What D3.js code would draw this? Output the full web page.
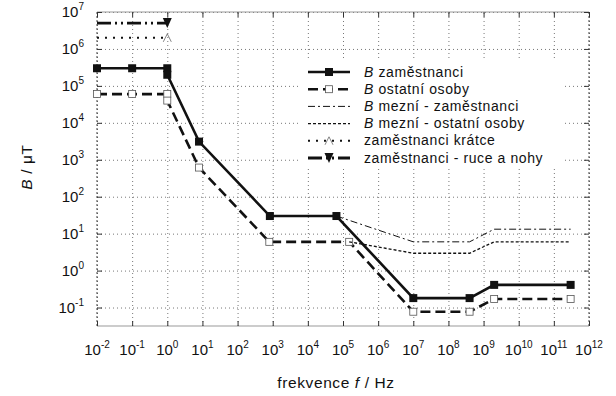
<!DOCTYPE html>
<html>
<head>
<meta charset="utf-8">
<script src="https://cdn.jsdelivr.net/npm/d3@7"></script>
<style>
  body { margin: 0; background: #fff; }
  svg { font-family: "Liberation Sans", Arial, sans-serif; }
</style>
</head>
<body>
<svg id="chart" width="616" height="396"></svg>
<script>
// frequency [Hz] and flux density [uT]
const zamF = [1e-2, 1e-1, 1, 1, 8, 830, 6.5e4, 1e7, 4e8, 2e9, 3e11];
const zamB = [3e5, 3e5, 3e5, 2e5, 3.1e3, 30, 30, 0.18, 0.18, 0.41, 0.41];
const ostF = [1e-2, 1e-1, 1, 1, 8, 800, 1.5e5, 1e7, 4e8, 2e9, 3e11];
const ostB = [6e4, 6e4, 6e4, 4e4, 615, 6, 6, 0.077, 0.077, 0.17, 0.17];
const mezZamF = [6.5e4, 1e7, 4e8, 2e9, 3e11];
const mezZamB = [30, 6, 6, 13.2, 13.2];
const mezOstF = [1.5e5, 1e7, 4e8, 2e9, 3e11];
const mezOstB = [6, 2.95, 2.95, 6, 6];
const kratceF = [1e-2, 1];
const kratceB = [2e6, 2e6];
const ruceF = [1e-2, 1];
const ruceB = [5e6, 5e6];

const xTicks = d3.range(-2, 13).map(e => Math.pow(10, e));
const yTicks = d3.range(-1, 8).map(e => Math.pow(10, e));

const legendLabels = [
  ["B", " zaměstnanci"],
  ["B", " ostatní osoby"],
  ["B", " mezní - zaměstnanci"],
  ["B", " mezní - ostatní osoby"],
  ["", "zaměstnanci krátce"],
  ["", "zaměstnanci - ruce a nohy"]
];

const pLeft = 97, pRight = 589, pTop = 12, pBottom = 326;
const ink = "#111";

const svg = d3.select("#chart");

const x = d3.scaleLog().domain([1e-2, 1e12]).range([pLeft, pRight]);
const y = d3.scaleLog().domain([Math.pow(10, -1.5), 1e7]).range([pBottom, pTop]);

// grid
svg.append("g")
  .attr("transform", `translate(0,${pBottom})`)
  .call(d3.axisBottom(x).tickValues(xTicks).tickSize(-(pBottom - pTop)).tickFormat(""))
  .call(g => g.select(".domain").remove())
  .selectAll("line")
  .attr("stroke", "#777").attr("stroke-dasharray", "1,3");

svg.append("g")
  .attr("transform", `translate(${pLeft},0)`)
  .call(d3.axisLeft(y).tickValues(yTicks).tickSize(-(pRight - pLeft)).tickFormat(""))
  .call(g => g.select(".domain").remove())
  .selectAll("line")
  .attr("stroke", "#777").attr("stroke-dasharray", "1,3");

// frame: solid top / bottom, dotted sides
svg.append("line").attr("x1", pLeft).attr("x2", pRight).attr("y1", pTop).attr("y2", pTop)
  .attr("stroke", "#999");
svg.append("line").attr("x1", pLeft).attr("x2", pRight).attr("y1", pBottom).attr("y2", pBottom)
  .attr("stroke", "#999");
[pLeft, pRight].forEach(px => {
  svg.append("line").attr("x1", px).attr("x2", px).attr("y1", pTop).attr("y2", pBottom)
    .attr("stroke", "#444").attr("stroke-dasharray", "2,2");
});

// inward ticks
function ticks(axis, tr) {
  svg.append("g").attr("transform", tr).call(axis)
    .call(g => g.select(".domain").remove())
    .call(g => g.selectAll("text").remove())
    .selectAll("line").attr("stroke", "#333");
}
ticks(d3.axisBottom(x).tickValues(xTicks).tickSize(-5), `translate(0,${pBottom})`);
ticks(d3.axisTop(x).tickValues(xTicks).tickSize(-5), `translate(0,${pTop})`);
ticks(d3.axisLeft(y).tickValues(yTicks).tickSize(-5), `translate(${pLeft},0)`);
ticks(d3.axisRight(y).tickValues(yTicks).tickSize(-5), `translate(${pRight},0)`);

// tick labels 10^n
function power(sel, v) {
  const e = Math.round(Math.log10(v));
  sel.append("tspan").text("10");
  sel.append("tspan").attr("dy", -7).attr("font-size", 10).text(e < 0 ? "-" + (-e) : e);
}
svg.append("g").selectAll("text").data(xTicks).join("text")
  .attr("x", d => x(d)).attr("y", 355)
  .attr("text-anchor", "middle").attr("font-size", 15).attr("fill", ink)
  .each(function(d) { power(d3.select(this), d); });

svg.append("g").selectAll("text").data(yTicks).join("text")
  .attr("x", 84).attr("y", d => y(d) + 5)
  .attr("text-anchor", "end").attr("font-size", 15).attr("fill", ink)
  .each(function(d) { power(d3.select(this), d); });

// axis titles
const xt = svg.append("text").attr("x", 336).attr("y", 388)
  .attr("text-anchor", "middle").attr("font-size", 15.5).attr("letter-spacing", 0.6)
  .attr("fill", ink);
xt.append("tspan").text("frekvence ");
xt.append("tspan").attr("font-style", "italic").text("f");
xt.append("tspan").text(" / Hz");

const yt = svg.append("text").attr("transform", "translate(32,167) rotate(-90)")
  .attr("text-anchor", "middle").attr("font-size", 15.5).attr("letter-spacing", 0.6)
  .attr("fill", ink);
yt.append("tspan").attr("font-style", "italic").text("B");
yt.append("tspan").text(" / μT");

// series
const series = [
  { f: zamF, b: zamB, w: 2.6, dash: null, marker: "sqFill" },
  { f: ostF, b: ostB, w: 2.6, dash: "10,5", marker: "sqOpen" },
  { f: mezZamF, b: mezZamB, w: 1, dash: "7,3,2,3", marker: null },
  { f: mezOstF, b: mezOstB, w: 1.3, dash: "3,2", marker: null },
  { f: kratceF, b: kratceB, w: 2, dash: "2,6", marker: "triUp" },
  { f: ruceF, b: ruceB, w: 2.8, dash: "14,4,2,4,2,4", marker: "triDown" }
];

const line = d3.line().x(d => x(d[0])).y(d => y(d[1]));

function drawMarker(g, type, px, py) {
  if (type === "sqFill") {
    g.append("rect").attr("x", px - 4).attr("y", py - 4).attr("width", 8).attr("height", 8)
      .attr("fill", ink);
  } else if (type === "sqOpen") {
    g.append("rect").attr("x", px - 3.5).attr("y", py - 3.5).attr("width", 7).attr("height", 7)
      .attr("fill", "#fff").attr("stroke", "#555").attr("stroke-width", 0.8);
  } else if (type === "triUp") {
    g.append("path").attr("d", `M${px - 4},${py + 4}L${px},${py - 4}L${px + 4},${py + 4}`)
      .attr("fill", "none").attr("stroke", "#666").attr("stroke-width", 0.8);
  } else if (type === "triDown") {
    g.append("path").attr("d", `M${px - 4.5},${py - 5}L${px + 4.5},${py - 5}L${px},${py + 5}Z`)
      .attr("fill", ink);
  }
}

const plot = svg.append("g");
series.forEach(s => {
  const pts = s.f.map((f, i) => [f, s.b[i]]);
  plot.append("path").datum(pts).attr("d", line)
    .attr("fill", "none").attr("stroke", ink).attr("stroke-width", s.w)
    .attr("stroke-dasharray", s.dash);
  if (s.marker) {
    const mk = (s.marker === "triUp" || s.marker === "triDown") ? pts.slice(-1) : pts;
    mk.forEach(p => drawMarker(plot, s.marker, x(p[0]), y(p[1])));
  }
});

// legend
const lg = svg.append("g");
lg.append("rect").attr("x", 298).attr("y", 58).attr("width", 264).attr("height", 110)
  .attr("fill", "#fff");
legendLabels.forEach((lab, i) => {
  const ly = 72 + i * 17.2;
  const s = series[i];
  lg.append("line").attr("x1", 308).attr("x2", 350).attr("y1", ly).attr("y2", ly)
    .attr("stroke", ink).attr("stroke-width", s.w).attr("stroke-dasharray", s.dash);
  if (s.marker) drawMarker(lg, s.marker, 329, ly);
  const t = lg.append("text").attr("x", 364).attr("y", ly + 4.5)
    .attr("font-size", 14).attr("letter-spacing", 0.6).attr("fill", ink);
  if (lab[0]) t.append("tspan").attr("font-style", "italic").text(lab[0]);
  t.append("tspan").text(lab[1]);
});
</script>
</body>
</html>
